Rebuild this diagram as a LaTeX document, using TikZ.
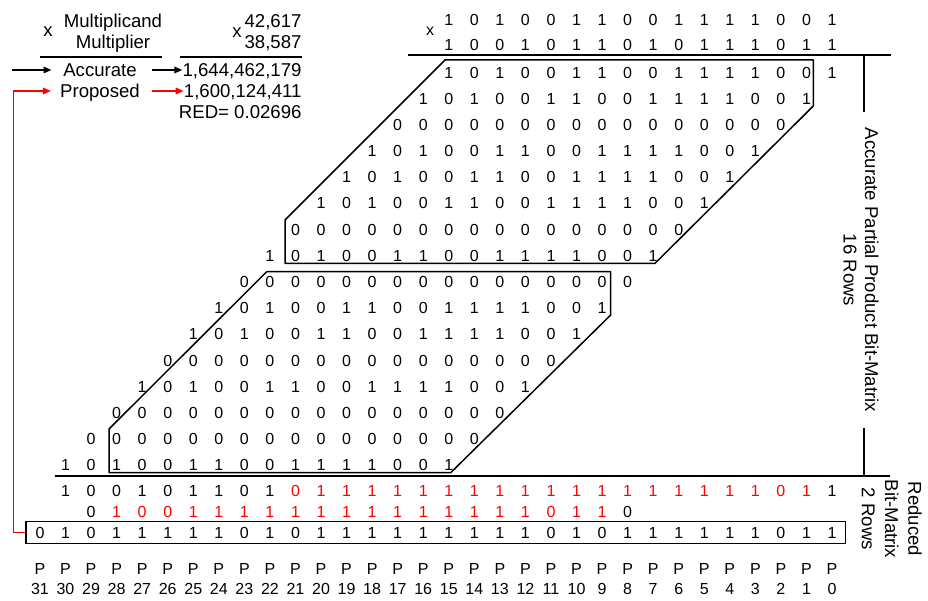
\documentclass[tikz,border=0pt]{standalone}
\usepackage{fontspec}
\setmainfont{Liberation Sans}
\usetikzlibrary{arrows.meta,positioning}

\begin{document}
\begin{tikzpicture}[
  x=1pt, y=-1pt,
  txt/.style={inner sep=0pt, font=\fontsize{18.6}{22}\selectfont, text height=13.3pt, text depth=0pt},
  bit/.style={inner sep=0pt, font=\fontsize{16}{19}\selectfont, text height=11.5pt, text depth=0pt},
  sidelbl/.style={inner sep=0pt, rotate=-90, align=center},
  plbl/.style={inner sep=0pt, align=center, font=\fontsize{16}{20}\selectfont},
  rule/.style={line width=1.8pt},
  tick/.style={line width=1.2pt},
  group/.style={line width=1.5pt, line join=round},
  link/.style={->, line width=1.5pt},
  >={Triangle[length=8pt,width=6.5pt]}
]
\useasboundingbox (0,0) rectangle (928,601);

% Decimal product
\node[txt] (xl) at (48,30) {x};
\node[txt] (mcand) at (113,20.7) {Multiplicand};
\node[txt] (mplier) at (113,41.7) {Multiplier};
\node[txt] (accurate) at (100,70) {Accurate};
\node[txt] (proposed) at (100,91) {Proposed};
\node[txt] (xr) at (237,31) {x};
\node[txt, anchor=east] (mcandval) at (301.7,20.7) {42,617};
\node[txt, anchor=east] (mplierval) at (301.7,41.7) {38,587};
\node[txt, anchor=east] (accval) at (301.7,70) {1,644,462,179};
\node[txt, anchor=east] (propval) at (301.7,91) {1,600,124,411};
\node[txt, anchor=east] (redval) at (301.7,111.7) {RED= 0.02696};
\draw[rule] (40,57.3) -- (162.3,57.3);
\draw[rule] (180,57.3) -- (301.7,57.3);

\coordinate (accin) at (11.7,70);
\draw[link] (accin) -- ([xshift=-11.6pt]accurate.west);
\draw[link] ([xshift=15pt]accurate.east) -- (accval.west);
\draw[link, red] ([xshift=12.4pt]proposed.east) -- (propval.west);

% Binary operands
\node[bit] (xbin) at (430,30) {x};
\foreach \b [count=\j from 0] in {1,0,1,0,0,1,1,0,0,1,1,1,1,0,0,1} {
  \pgfmathtruncatemacro\c{15-\j}
  \node[bit] (mc-\c) at ({832-25.55*\c},19.5) {\b};
}
\foreach \b [count=\j from 0] in {1,0,0,1,0,1,1,0,1,0,1,1,1,0,1,1} {
  \pgfmathtruncatemacro\c{15-\j}
  \node[bit] (mq-\c) at ({832-25.55*\c},45) {\b};
}
\draw[rule] (408,55) -- (891,55);

% Partial products, one row per multiplier bit
\foreach \k/\f in {0/1,1/1,2/0,3/1,4/1,5/1,6/0,7/1,8/0,9/1,10/1,11/0,12/1,13/0,14/0,15/1} {
  \foreach \b [count=\j from 0] in {1,0,1,0,0,1,1,0,0,1,1,1,1,0,0,1} {
    \pgfmathtruncatemacro\c{\k+15-\j}
    \pgfmathtruncatemacro\d{\b*\f}
    \node[bit] (pp\k-\c) at ({832-25.55*\c},{72.3+26.18*\k}) {\d};
  }
}

% Groups
\draw[group] (445,60) -- (813.3,60) -- (813.3,106) -- (655,263.3) -- (285,263.3) -- (285,220) -- cycle;
\draw[group] (266.7,271.7) -- (610.7,271.7) -- (610.7,315) -- (450.7,472.7) -- (109,472.7) -- (109,429) -- cycle;

\draw[rule] (55,476.3) -- (890,476.3);
\draw[tick] (864,55) -- (864,111.7);
\draw[tick] (864,428.3) -- (864,476.3);
\node[sidelbl, font=\fontsize{18.6}{21.7}\selectfont] (pplbl) at (861,270) {Accurate Partial Product Bit-Matrix\\16 Rows};
\node[sidelbl, font=\fontsize{18.6}{23.3}\selectfont] (redlbl) at (891.7,519) {Reduced\\Bit-Matrix\\2 Rows};

% Reduced rows
\foreach \b [count=\j from 0] in {1,0,0,1,0,1,1,0,1,0,1,1,1,1,1,1,1,1,1,1,1,1,1,1,1,1,1,1,0,1,1} {
  \pgfmathtruncatemacro\c{30-\j}
  \def\col{black}\ifnum\c<22 \ifnum\c>0 \def\col{red}\fi\fi
  \node[bit, text=\col] (ra-\c) at ({832-25.55*\c},490.7) {\b};
}
\foreach \b [count=\j from 0] in {0,1,0,0,1,1,1,1,1,1,1,1,1,1,1,1,1,1,0,1,1,0} {
  \pgfmathtruncatemacro\c{29-\j}
  \def\col{black}\ifnum\c<29 \ifnum\c>8 \def\col{red}\fi\fi
  \node[bit, text=\col] (rb-\c) at ({832-25.55*\c},512) {\b};
}

% Final sum
\node[draw, line width=1.5pt, inner sep=0pt, minimum width=819.7pt, minimum height=21.6pt] (sumbox) at (435.85,532.5) {};
\foreach \b [count=\j from 0] in {0,1,0,1,1,1,1,1,0,1,0,1,1,1,1,1,1,1,1,1,0,1,0,1,1,1,1,1,1,0,1,1} {
  \pgfmathtruncatemacro\c{31-\j}
  \node[bit] (sum-\c) at ({832-25.55*\c},533) {\b};
  \node[plbl] (p-\c) at ({832-25.55*\c},579) {P\\\c};
}
\draw[link, red] (sumbox.west) -- ++(-12,0) |- ([xshift=-9pt]proposed.west);

\end{tikzpicture}
\end{document}
